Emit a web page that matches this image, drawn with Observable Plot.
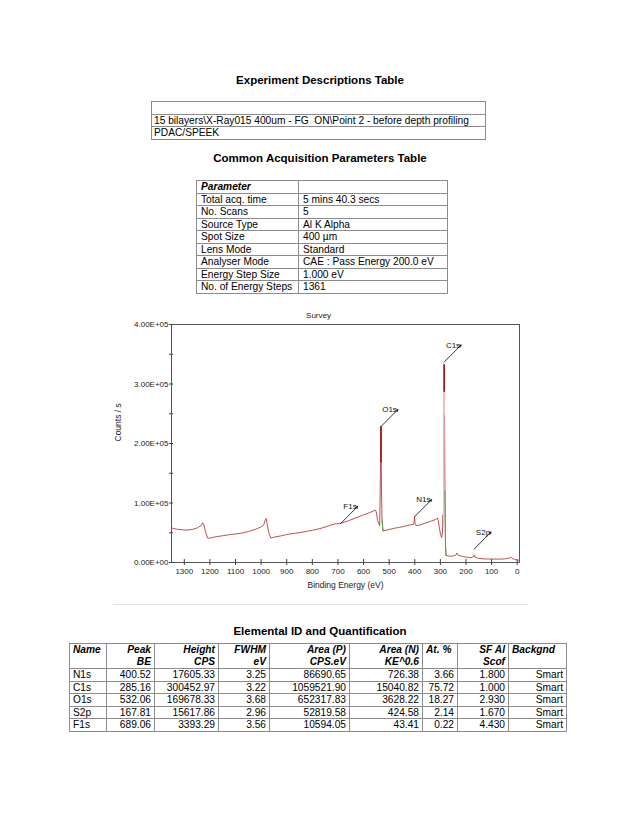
<!DOCTYPE html>
<html>
<head>
<meta charset="utf-8">
<script src="https://cdn.jsdelivr.net/npm/d3@7"></script>
<script src="https://cdn.jsdelivr.net/npm/@observablehq/plot@0.6"></script>
<style>
  body{margin:0;background:#fff;font-family:"Liberation Sans",Arial,sans-serif;color:#000;}
  #page{position:relative;width:638px;height:826px;overflow:hidden;}
  .ttl{position:absolute;left:0;width:640px;text-align:center;font-weight:bold;font-size:11.5px;line-height:14px;}
  table{position:absolute;border-collapse:collapse;table-layout:fixed;font-size:10.2px;}
  td{border:1px solid #8c8c8c;padding:0 3px;white-space:pre;overflow:hidden;line-height:11px;}
  tr{height:12.5px;}
  #t1 td{padding:0 2px;}
  #t2 td{padding:0 4px;}
  .bi{font-weight:bold;font-style:italic;}
  .r{text-align:right;}
  #t3 tr.h td{vertical-align:top;line-height:12px;}
  #sep{position:absolute;left:113px;top:604px;width:415px;height:1px;background:#e2e2e2;}
  #chart{position:absolute;left:100px;top:300px;}
</style>
</head>
<body>
<div id="page">
  <div class="ttl" style="top:73px">Experiment Descriptions Table</div>
  <table id="t1" style="left:151px;top:101px;width:335px"></table>
  <div class="ttl" style="top:151px">Common Acquisition Parameters Table</div>
  <table id="t2" style="left:196px;top:180px;width:251px"><colgroup><col style="width:102px"><col style="width:149px"></colgroup></table>
  <div id="chart"></div>
  <div id="sep"></div>
  <div class="ttl" style="top:624px">Elemental ID and Quantification</div>
  <table id="t3" style="left:69px;top:643px;width:497px"><colgroup>
    <col style="width:37px"><col style="width:48px"><col style="width:64px"><col style="width:51px"><col style="width:80px"><col style="width:73px"><col style="width:35px"><col style="width:51px"><col style="width:58px"></colgroup></table>
</div>
<script>
// ---------- Table data ----------
const expDescRows = ["", "15 bilayers\\X-Ray015 400um - FG  ON\\Point 2 - before depth profiling", "PDAC/SPEEK"];

const paramNames = ["Total acq. time", "No. Scans", "Source Type", "Spot Size", "Lens Mode", "Analyser Mode", "Energy Step Size", "No. of Energy Steps"];
const paramValues = ["5 mins 40.3 secs", "5", "Al K Alpha", "400 µm", "Standard", "CAE : Pass Energy 200.0 eV", "1.000 eV", "1361"];

const quantHeaders = [["Name",""],["Peak","BE"],["Height","CPS"],["FWHM","eV"],["Area (P)","CPS.eV"],["Area (N)","KE^0.6"],["At. %",""],["SF Al","Scof"],["Backgnd",""]];
const elNames = ["N1s", "C1s", "O1s", "S2p", "F1s"];
const elPeakBE = ["400.52", "285.16", "532.06", "167.81", "689.06"];
const elHeight = ["17605.33", "300452.97", "169678.33", "15617.86", "3393.29"];
const elFWHM = ["3.25", "3.22", "3.68", "2.96", "3.56"];
const elAreaP = ["86690.65", "1059521.90", "652317.83", "52819.58", "10594.05"];
const elAreaN = ["726.38", "15040.82", "3628.22", "424.58", "43.41"];
const elAtPct = ["3.66", "75.72", "18.27", "2.14", "0.22"];
const elSF = ["1.800", "1.000", "2.930", "1.670", "4.430"];
const elBackgnd = ["Smart", "Smart", "Smart", "Smart", "Smart"];

// ---------- Spectrum data (binding energy eV, counts/s) ----------
const specBE = [1350,1330,1310,1290,1270,1250,1235,1228,1224,1216,1209,1200,1180,1150,1120,1100,1080,1050,1020,1000,990,985,980,977,970,962,950,920,900,870,845,820,800,770,740,715,689,660,630,600,575,559,555,550,545,537,534,532,530,528,524,520,500,480,460,440,420,405,402,400.5,399,395,380,360,340,320,312,308,303,298,295,292,290,288,286,285,284,282,280,278,270,260,250,240,235,230,220,210,200,190,180,170,168,165,150,130,100,70,50,30,25,20,10,0,-5];
const specCounts = [58000,56000,55000,54500,55500,58000,62000,67000,64000,50000,41000,41000,43000,45000,47000,48000,49000,52000,56000,60000,63000,70000,74000,66000,50000,41000,42500,45000,47000,49000,50500,52500,54000,57000,61000,64600,66000,70000,75000,80000,84000,87000,88500,85000,70000,62000,150000,228000,120000,72000,53000,53500,55500,57500,59000,61000,63000,64000,70000,77000,66000,62000,63000,66000,69000,72000,74700,70000,55000,45000,42000,50000,80000,60000,200000,334000,250000,120000,30000,12000,11000,10500,11000,12500,16000,12000,11000,10000,9000,8500,8000,10000,13000,9000,7000,6000,5800,5700,6000,7500,9000,7000,5000,4000,3800];

// dense peak tops drawn darker
const peakTopBE = [532, 285];
const peakTopLo = [168000, 286000];
const peakTopHi = [228000, 332000];

// peak annotations
const annNames = ["C1s", "O1s", "F1s", "N1s", "S2p"];
const annBE = [285, 532, 689, 400.5, 168];
const annCounts = [337000, 228500, 65600, 77000, 22600];

const xTicks = d3.range(0, 1301, 100);
const yTicks = d3.range(0, 400001, 50000);

// ---------- Build tables ----------
function esc(s){return String(s).replace(/&/g,"&amp;").replace(/</g,"&lt;");}
document.getElementById("t1").insertAdjacentHTML("beforeend",
  expDescRows.map(r => `<tr><td>${esc(r)}</td></tr>`).join(""));
document.getElementById("t2").insertAdjacentHTML("beforeend",
  `<tr><td class="bi">Parameter</td><td></td></tr>` +
  paramNames.map((n,i) => `<tr><td>${esc(n)}</td><td>${esc(paramValues[i])}</td></tr>`).join(""));
const leftHead = new Set([0,6,8]);
let h3 = `<tr class="h" style="height:25px">` + quantHeaders.map((h,i) =>
  `<td class="bi${leftHead.has(i) ? "" : " r"}">${esc(h[0])}<br>${esc(h[1])}</td>`).join("") + `</tr>`;
h3 += elNames.map((n,i) => `<tr><td>${n}</td>` +
  [elPeakBE[i], elHeight[i], elFWHM[i], elAreaP[i], elAreaN[i], elAtPct[i], elSF[i], elBackgnd[i]]
    .map(v => `<td class="r">${v}</td>`).join("") + `</tr>`).join("");
document.getElementById("t3").insertAdjacentHTML("beforeend", h3);

// ---------- Chart ----------
const spectrum = specBE.map((b,i) => ({be:b, counts:specCounts[i]}));
const peakTops = peakTopBE.map((b,i) => ({be:b, lo:peakTopLo[i], hi:peakTopHi[i]}));
const ann = annNames.map((n,i) => ({name:n, be:annBE[i], counts:annCounts[i], lbe:annBE[i]-66, lcounts:annCounts[i]+28600}));
const fmtY = d => d === 0 ? "0.00E+00" : (d/1e5).toFixed(2) + "E+05";
const lineRed = "#b3403f";

const chart = Plot.plot({
  width: 440, height: 300,
  marginLeft: 71, marginRight: 21, marginTop: 24, marginBottom: 38,
  style: {fontFamily: '"Liberation Sans", Arial, sans-serif', fontSize: "8px", background: "transparent", overflow: "visible"},
  x: {domain: [1350, -9]},
  y: {domain: [0, 400000]},
  marks: [
    Plot.frame({stroke: "#555", strokeWidth: 1}),
    Plot.axisX({ticks: xTicks, tickSize: 3, tickPadding: 3, tickFormat: d => String(d), label: null, stroke: "#444", fill: "#222"}),
    Plot.axisX({ticks: xTicks, tickSize: 3, dy: -3, tickFormat: () => "", label: null, stroke: "#444"}),
    Plot.axisY({ticks: yTicks, tickSize: 2, tickPadding: 1, tickFormat: d => d % 100000 === 0 ? fmtY(d) : "", label: null, stroke: "#444", fill: "#222"}),
    Plot.axisY({ticks: yTicks, tickSize: 2, dx: 2, tickFormat: () => "", label: null, stroke: "#444"}),
    Plot.line(spectrum, {x: "be", y: "counts", stroke: lineRed, strokeWidth: 0.9}),
    Plot.line(spectrum.filter(d => d.be >= 284 && d.be <= 288), {x: "be", y: "counts", stroke: "#f3c2c2", strokeWidth: 1.3}),
    Plot.line(spectrum.filter(d => d.be >= 524 && d.be <= 528), {x: "be", y: "counts", stroke: "#4bb04b", strokeWidth: 1}),
    Plot.line(spectrum.filter(d => d.be >= 278 && d.be <= 282), {x: "be", y: "counts", stroke: "#4bb04b", strokeWidth: 1}),
    Plot.ruleX(peakTops, {x: "be", y1: "lo", y2: "hi", stroke: "#a31a1a", strokeWidth: 1.7}),
    Plot.arrow(ann, {x1: "be", y1: "counts", x2: "lbe", y2: "lcounts", stroke: "#000", strokeWidth: 0.8, headLength: 4}),
    Plot.text(ann, {x: "lbe", y: "lcounts", text: "name", textAnchor: "end", dx: -1, dy: 0, fill: "#111"}),
    Plot.text(["Survey"], {frameAnchor: "top", dx: -27, dy: -12, fill: "#222"}),
    Plot.text(["Binding Energy (eV)"], {frameAnchor: "bottom", dy: 25, fill: "#222", fontSize: 8.5}),
    Plot.text(["Counts / s"], {frameAnchor: "left", rotate: -90, dx: -53, dy: -2, fill: "#222", fontSize: 8.5})
  ]
});
document.getElementById("chart").appendChild(chart);
</script>
</body>
</html>
